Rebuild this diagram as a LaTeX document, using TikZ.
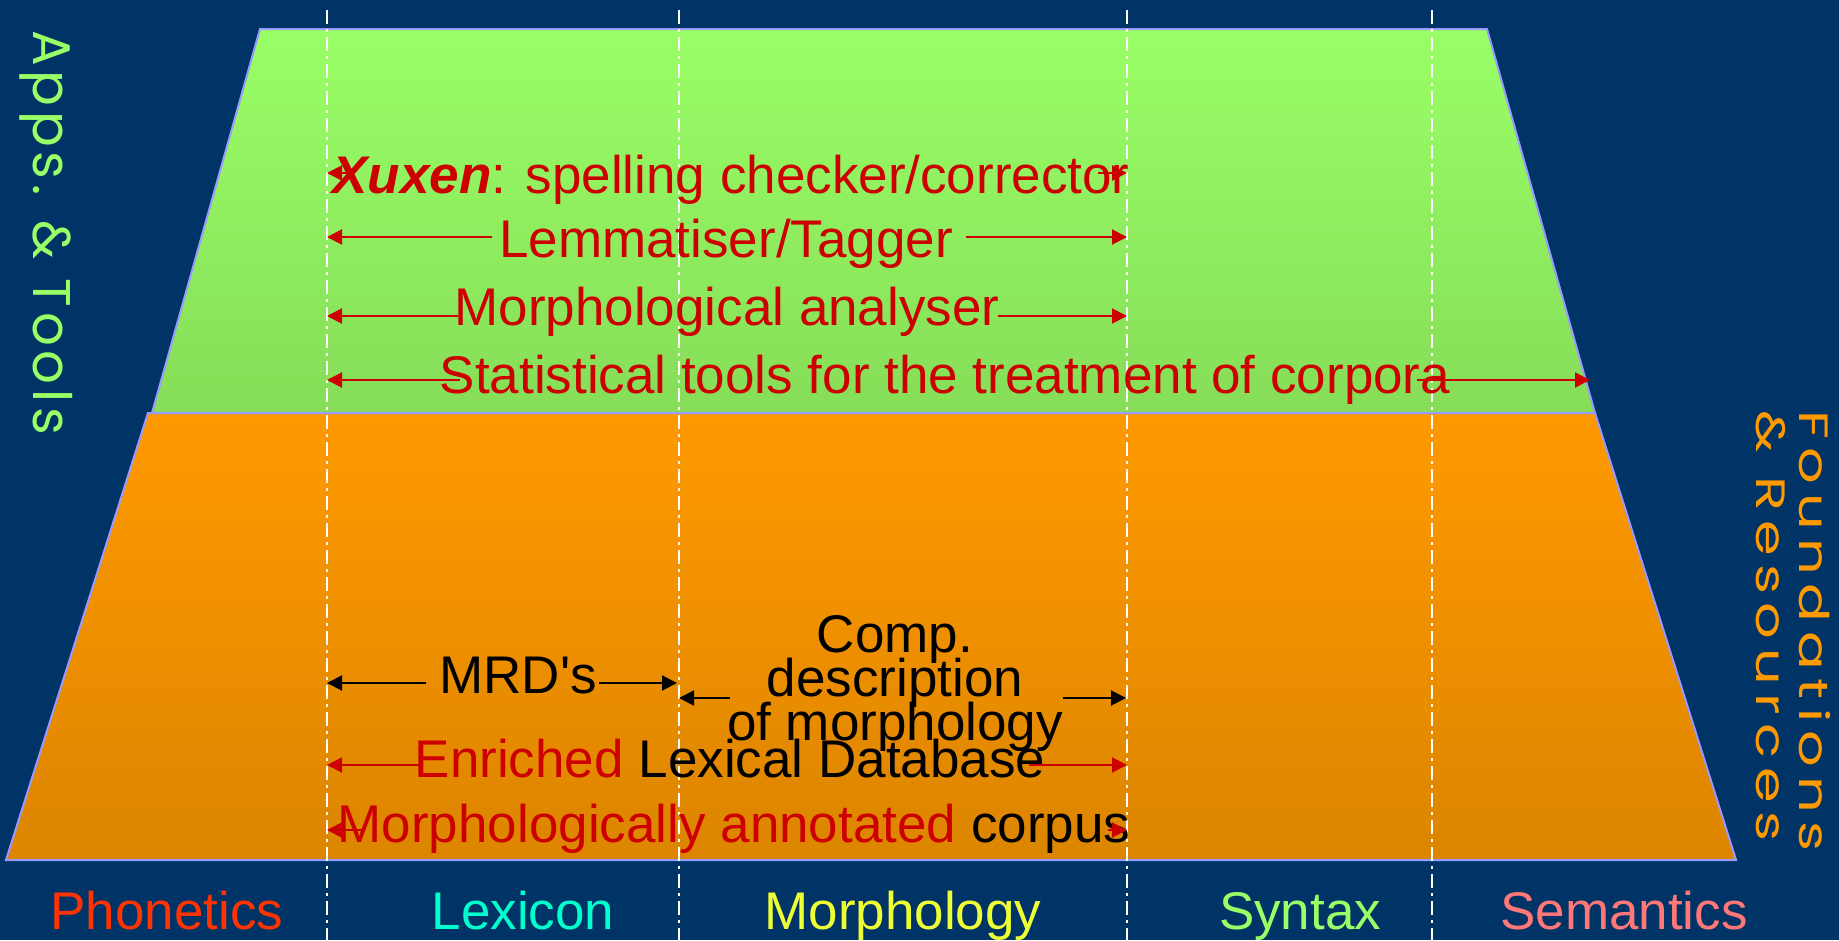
\documentclass[tikz,border=0pt]{standalone}
\usepackage{fontspec}
\usepackage{graphicx}
\setmainfont{Liberation Sans}[Ligatures=TeXOff]
\newfontfamily\sidefont[LetterSpace=9]{Poppins}
\newfontfamily\sidefontwide[LetterSpace=15]{Poppins}
\usetikzlibrary{arrows.meta}
\newcommand{\tightlines}{\lineskiplimit=-200pt\relax\lineskip=0pt\relax}
\newcommand{\widetxt}[1]{\scalebox{1.4}[1]{#1}}
\definecolor{bgnavy}{HTML}{003366}
\definecolor{greentop}{HTML}{99FF66}
\definecolor{greenbot}{HTML}{86DD58}
\definecolor{orangetop}{HTML}{FF9900}
\definecolor{orangebot}{HTML}{DC8500}
\definecolor{edgeblue}{HTML}{9999FF}
\definecolor{txtred}{HTML}{CC0000}
\definecolor{phoncol}{HTML}{FF3300}
\definecolor{lexcol}{HTML}{00FFCC}
\definecolor{morcol}{HTML}{EEFF33}
\definecolor{syncol}{HTML}{99FF66}
\definecolor{semcol}{HTML}{FF7777}
\tikzset{
  bigtxt/.style={inner sep=0pt, anchor=base, font=\fontsize{53}{44}\selectfont\tightlines},
  redtxt/.style={bigtxt, text=txtred},
  blktxt/.style={bigtxt, text=black},
  labeltxt/.style={inner sep=0pt, anchor=base, font=\fontsize{53}{60}\selectfont},
  rarr/.style={draw=txtred, line width=2pt, -{Triangle[length=15pt,width=15pt]}},
  barr/.style={draw=black, line width=2pt, -{Triangle[length=15pt,width=15pt]}},
  divider/.style={draw=white, line width=2.2pt, dash pattern=on 14pt off 5pt on 3pt off 5pt},
  layer/.style={draw=edgeblue, line width=2pt}
}
\begin{document}
\begin{tikzpicture}[x=1pt,y=-1pt]
\useasboundingbox (0,0) rectangle (1839,940);
\fill[bgnavy] (0,0) rectangle (1839,940);

% layers
\path[layer, top color=orangetop, bottom color=orangebot]
  (148,413) -- (1595,413) -- (1736,860) -- (6,860) -- cycle;
\path[layer, top color=greentop, bottom color=greenbot]
  (260,29) -- (1487,29) -- (1595,413) -- (152,413) -- cycle;

% dividers
\coordinate (d1t) at (327,10);  \coordinate (d1b) at (327,940);
\coordinate (d2t) at (679,10);  \coordinate (d2b) at (679,940);
\coordinate (d3t) at (1127,10); \coordinate (d3b) at (1127,940);
\coordinate (d4t) at (1432,10); \coordinate (d4b) at (1432,940);
\draw[divider] (d1t) -- (d1b);
\draw[divider] (d2t) -- (d2b);
\draw[divider] (d3t) -- (d3b);
\draw[divider] (d4t) -- (d4b);

% side labels
\node[inner sep=0pt, anchor=base west, rotate=-90, text=greentop,
      font=\fontsize{53}{60}\sidefont] (apps) at (33,30) {Apps. \& Tools};
\node[inner sep=0pt, anchor=north west, rotate=-90, text=orangetop, align=left,
      font=\fontsize{41}{43}\sidefontwide] (found) at (1831,410)
      {\widetxt{Foundations}\\\widetxt{\& Resources}};

% tools (green layer)
\node[redtxt] (t1) at (731,193) {\textbf{\textit{Xuxen}}: spelling checker/corrector};
\node[redtxt] (t2) at (726,257) {Lemmatiser/Tagger};
\node[redtxt] (t3) at (727,325) {Morphological analyser};
\node[redtxt] (t4) at (945,393) {Statistical tools for the treatment of corpora};

\coordinate (t1l) at (350,173); \coordinate (t1le) at (327,173);
\coordinate (t1r) at (1098,173); \coordinate (t1re) at (1127,173);
\draw[rarr] (t1l) -- (t1le);
\draw[rarr] (t1r) -- (t1re);

\coordinate (t2l) at (492,237); \coordinate (t2le) at (327,237);
\coordinate (t2r) at (966,237); \coordinate (t2re) at (1127,237);
\draw[rarr] (t2l) -- (t2le);
\draw[rarr] (t2r) -- (t2re);

\coordinate (t3l) at (458,316); \coordinate (t3le) at (327,316);
\coordinate (t3r) at (998,316); \coordinate (t3re) at (1127,316);
\draw[rarr] (t3l) -- (t3le);
\draw[rarr] (t3r) -- (t3re);

\coordinate (t4l) at (460,380); \coordinate (t4le) at (327,380);
\coordinate (t4r) at (1417,380); \coordinate (t4re) at (1590,380);
\draw[rarr] (t4l) -- (t4le);
\draw[rarr] (t4r) -- (t4re);

% resources (orange layer)
\node[blktxt] (r1) at (518,693) {MRD's};
\node[blktxt, align=center, anchor=base] (r2) at (895,740) {Comp.\\description\\of morphology};
\node[redtxt] (r3) at (730,777) {Enriched \textcolor{black}{Lexical Database}};
\node[redtxt] (r4) at (734,842) {Morphologically annotated \textcolor{black}{corpus}};

\coordinate (r1l) at (426,683); \coordinate (r1le) at (327,683);
\coordinate (r1r) at (599,683); \coordinate (r1re) at (677,683);
\draw[barr] (r1l) -- (r1le);
\draw[barr] (r1r) -- (r1re);

\coordinate (r2l) at (730,698); \coordinate (r2le) at (679,698);
\coordinate (r2r) at (1063,698); \coordinate (r2re) at (1126,698);
\draw[barr] (r2l) -- (r2le);
\draw[barr] (r2r) -- (r2re);

\coordinate (r3l) at (423,765); \coordinate (r3le) at (327,765);
\coordinate (r3r) at (1029,765); \coordinate (r3re) at (1127,765);
\draw[rarr] (r3l) -- (r3le);
\draw[rarr] (r3r) -- (r3re);

\coordinate (r4l) at (362,830); \coordinate (r4le) at (327,830);
\coordinate (r4r) at (1108,830); \coordinate (r4re) at (1127,830);
\draw[rarr] (r4l) -- (r4le);
\draw[rarr] (r4r) -- (r4re);

% bottom labels
\node[labeltxt, text=phoncol] (phon) at (167,929) {Phonetics};
\node[labeltxt, text=lexcol]  (lex)  at (523,929) {Lexicon};
\node[labeltxt, text=morcol]  (morph) at (903,929) {Morphology};
\node[labeltxt, text=syncol]  (syn)  at (1300,929) {Syntax};
\node[labeltxt, text=semcol]  (sem)  at (1624,929) {Semantics};
\end{tikzpicture}
\end{document}
